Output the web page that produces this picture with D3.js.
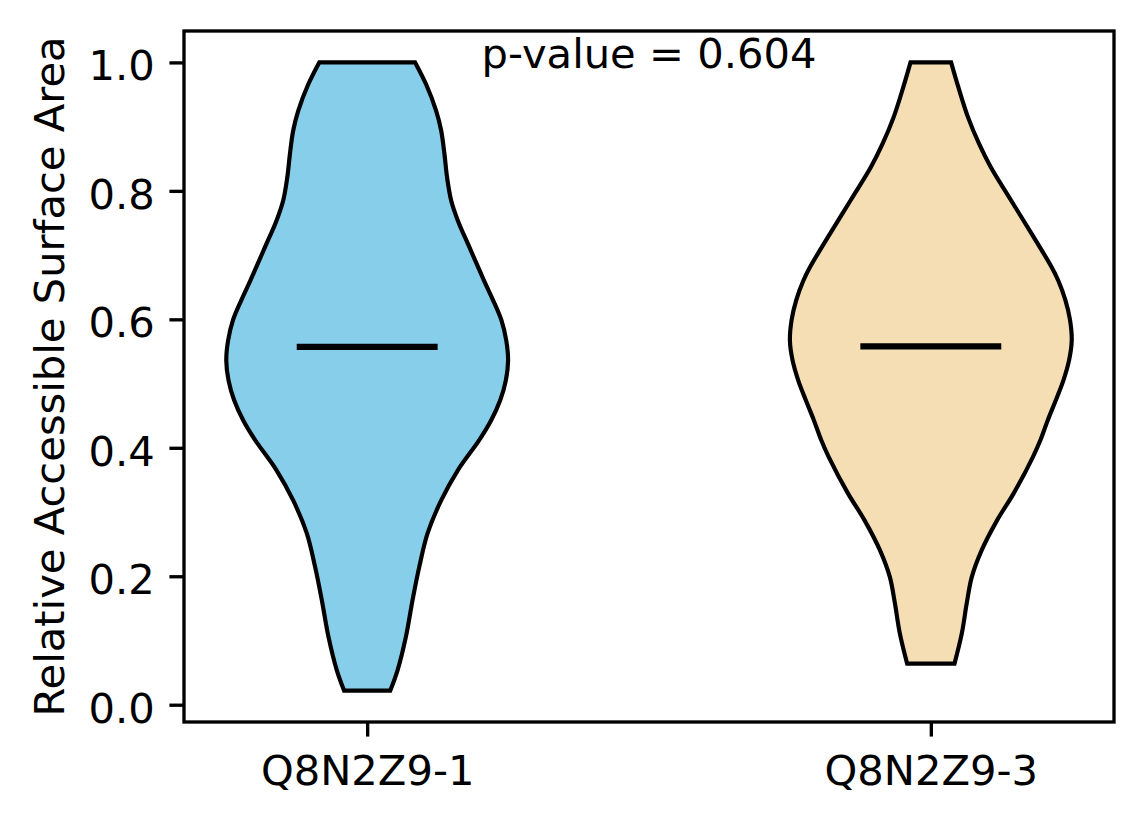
<!DOCTYPE html>
<html>
<head>
<meta charset="utf-8">
<script src="https://cdn.jsdelivr.net/npm/d3@7"></script>
<style>
  body { margin: 0; background: #fff; }
  svg text { font-family: "DejaVu Sans", sans-serif; fill: #000; }
</style>
</head>
<body>
<div id="graph"></div>
<script>
// categories and summary values
var groups = ["Q8N2Z9-1", "Q8N2Z9-3"];
var positions = [1, 2];
var medians = [0.557, 0.558];
var colors = ["#87CEEB", "#F5DEB3"];
var pValue = "0.604";
var yTicks = [0, 0.2, 0.4, 0.6, 0.8, 1.0];

// kde outline of each violin: value -> relative density (peak = 1)
var values1 = [1.0, 0.966, 0.925, 0.894, 0.858, 0.821, 0.785, 0.754, 0.712, 0.660, 0.630, 0.599,
    0.567, 0.536, 0.505, 0.474, 0.443, 0.412, 0.365, 0.318, 0.267, 0.215, 0.163, 0.106, 0.054, 0.022];
var density1 = [0.340, 0.418, 0.489, 0.525, 0.548, 0.567, 0.596, 0.643, 0.726, 0.830, 0.893, 0.952,
    0.987, 1.000, 0.984, 0.944, 0.880, 0.795, 0.643, 0.525, 0.429, 0.370, 0.322, 0.275, 0.216, 0.164];

var values2 = [1.0, 0.961, 0.914, 0.873, 0.837, 0.785, 0.733, 0.681, 0.660, 0.630, 0.599, 0.567,
    0.536, 0.505, 0.474, 0.443, 0.412, 0.386, 0.329, 0.287, 0.241, 0.199, 0.158, 0.111, 0.064];
var density2 = [0.144, 0.196, 0.265, 0.343, 0.425, 0.570, 0.716, 0.858, 0.905, 0.955, 0.988, 1.000,
    0.981, 0.941, 0.887, 0.830, 0.778, 0.725, 0.588, 0.470, 0.362, 0.291, 0.255, 0.220, 0.168];

var violins = [
    { values: values1, density: density1 },
    { values: values2, density: density2 }
];

var W = 1144, H = 824;
var pt = 300 / 72;   // figure was 300 dpi
var fontPx = 10 * pt;
var axLeft = 184, axRight = 1114, axTop = 31, axBottom = 722;
var halfWidth = 0.25; // widths=0.5

// autoscale with 5% margins like matplotlib
var allVals = values1.concat(values2);
var yMin = d3.min(allVals), yMax = d3.max(allVals);
var yPad = (yMax - yMin) * 0.05;
var xMin = positions[0] - halfWidth, xMax = positions[1] + halfWidth;
var xPad = (xMax - xMin) * 0.05;

var x = d3.scaleLinear().domain([xMin - xPad, xMax + xPad]).range([axLeft, axRight]);
var y = d3.scaleLinear().domain([yMin - yPad, yMax + yPad]).range([axBottom, axTop]);

var svg = d3.select('#graph').append('svg')
    .attr('width', W)
    .attr('height', H);

// violin bodies
violins.forEach(function (v, i) {
    var peak = d3.max(v.density);
    var pts = v.values.map(function (val, j) {
        return { v: val, d: v.density[j] / peak * halfWidth };
    });
    var area = d3.area()
        .y(function (d) { return y(d.v); })
        .x0(function (d) { return x(positions[i] - d.d); })
        .x1(function (d) { return x(positions[i] + d.d); })
        .curve(d3.curveCatmullRom);
    svg.append('path')
        .classed('violin', true)
        .attr('d', area(pts))
        .attr('fill', colors[i])
        .attr('stroke', '#000')
        .attr('stroke-width', 1 * pt)
        .attr('stroke-linejoin', 'miter');
});

// median lines
svg.selectAll('.median')
    .data(medians)
    .enter()
    .append('line')
    .classed('median', true)
    .attr('x1', function (d, i) { return x(positions[i] - halfWidth / 2); })
    .attr('x2', function (d, i) { return x(positions[i] + halfWidth / 2); })
    .attr('y1', function (d) { return y(d); })
    .attr('y2', function (d) { return y(d); })
    .attr('stroke', '#000')
    .attr('stroke-width', 1.5 * pt);

// axes
var yAxis = d3.axisLeft(y)
    .tickValues(yTicks)
    .tickFormat(d3.format('.1f'))
    .tickSize(3.5 * pt)
    .tickSizeOuter(0)
    .tickPadding(3.5 * pt);

var xAxis = d3.axisBottom(x)
    .tickValues(positions)
    .tickFormat(function (d, i) { return groups[i]; })
    .tickSize(3.5 * pt)
    .tickSizeOuter(0)
    .tickPadding(3.5 * pt);

var gy = svg.append('g').attr('transform', 'translate(' + axLeft + ',0)').call(yAxis);
var gx = svg.append('g').attr('transform', 'translate(0,' + axBottom + ')').call(xAxis);

[gy, gx].forEach(function (g) {
    g.select('.domain').remove();
    g.selectAll('line').attr('stroke', '#000').attr('stroke-width', 0.8 * pt);
    g.selectAll('text')
        .style('font-family', '"DejaVu Sans", sans-serif')
        .style('font-size', fontPx + 'px')
        .attr('fill', '#000');
});
gy.selectAll('text').attr('dy', '0.42em');
gx.selectAll('text').attr('dy', '0.81em');

// spines
svg.append('rect')
    .attr('x', axLeft)
    .attr('y', axTop)
    .attr('width', axRight - axLeft)
    .attr('height', axBottom - axTop)
    .attr('fill', 'none')
    .attr('stroke', '#000')
    .attr('stroke-width', 0.8 * pt);

// y label
svg.append('text')
    .attr('transform', 'translate(63.5,' + ((axTop + axBottom) / 2) + ') rotate(-90)')
    .attr('text-anchor', 'middle')
    .style('font-size', fontPx + 'px')
    .text('Relative Accessible Surface Area');

// p-value annotation
svg.append('text')
    .attr('x', (axLeft + axRight) / 2)
    .attr('y', y(1.0) + 5.3)
    .attr('text-anchor', 'middle')
    .style('font-size', fontPx + 'px')
    .text('p-value = ' + pValue);
</script>
</body>
</html>
